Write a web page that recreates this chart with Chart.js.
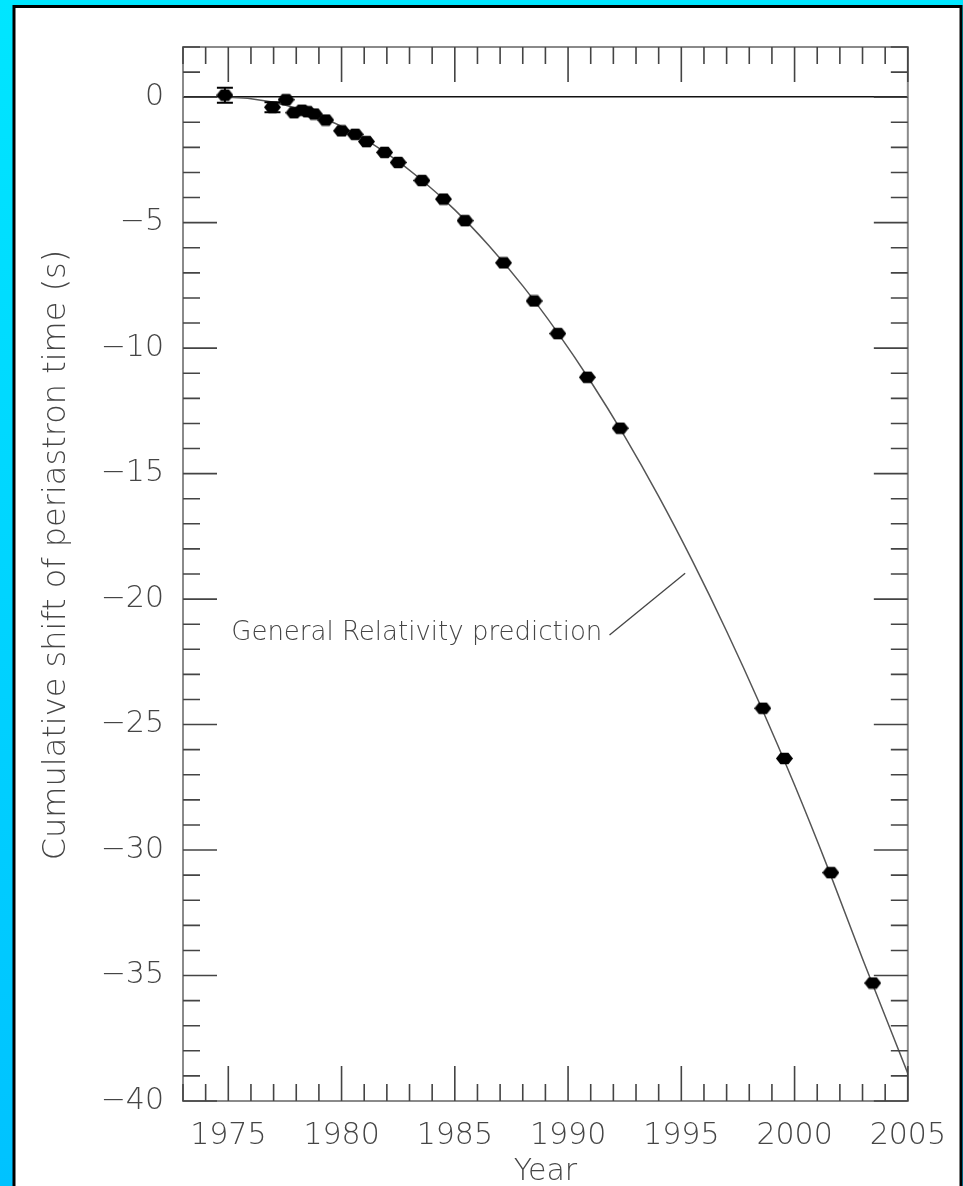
<!DOCTYPE html>
<html><head><meta charset="utf-8">
<script src="https://cdn.jsdelivr.net/npm/chart.js@4.4.1/dist/chart.umd.min.js"></script>
<style>html,body{margin:0;padding:0;background:#fff;overflow:hidden}canvas{display:block}</style>
</head><body>
<canvas id="c" width="963" height="1186"></canvas>
<script>
// ---- data ----
const obsYears = [1974.85, 1976.95, 1977.55, 1977.9, 1978.25, 1978.5, 1978.8, 1979.3, 1980.0, 1980.6, 1981.1, 1981.9, 1982.5, 1983.55, 1984.5, 1985.45, 1987.15, 1988.5, 1989.55, 1990.85, 1992.3, 1998.6, 1999.55, 2001.6, 2003.45];
const obsShift = [0.08, -0.4, -0.1, -0.62, -0.52, -0.58, -0.67, -0.91, -1.34, -1.48, -1.77, -2.2, -2.6, -3.32, -4.06, -4.92, -6.6, -8.12, -9.42, -11.16, -13.19, -24.35, -26.35, -30.9, -35.3];
const obsError = [0.3, 0.2, 0.08, 0.08, 0.08, 0.08, 0.08, 0.05, 0.05, 0.05, 0.05, 0.05, 0.05, 0.05, 0.05, 0.05, 0.05, 0.05, 0.05, 0.05, 0.05, 0.05, 0.05, 0.05, 0.05];
const grYears = [1974.8, 1976, 1977.5, 1979, 1980.5, 1982, 1983.5, 1985, 1986.5, 1988, 1989.5, 1991, 1992.5, 1994, 1995.5, 1997, 1998.5, 2000, 2001.5, 2003, 2005];
const grShift = [0, -0.06, -0.31, -0.76, -1.4, -2.24, -3.27, -4.49, -5.91, -7.52, -9.33, -11.33, -13.52, -15.91, -18.5, -21.28, -24.25, -27.41, -30.78, -34.33, -38.9];
const xTickYears = [1975, 1980, 1985, 1990, 1995, 2000, 2005];
const yTickValues = [0, -5, -10, -15, -20, -25, -30, -35, -40];
const xRange = [1973, 2005];
const yRange = [-40, 2];
const xTitle = 'Year';
const yTitle = 'Cumulative shift of periastron time (s)';
const curveLabel = 'General Relativity prediction';
const labelAnchor = [1975.13, -21.63];
const leaderLine = [[1991.83, -21.43], [1995.17, -18.97]];

// ---- styling ----
const FONT = "'DejaVu Sans', sans-serif";
const TEXT = '#454545';
const WEIGHT = '300';

const mk = document.createElement('canvas');
mk.width = 17; mk.height = 13;
(function () {
  const m = mk.getContext('2d');
  m.fillStyle = '#000';
  m.beginPath();
  m.moveTo(0, 6.5); m.lineTo(4.5, 0.8); m.lineTo(12.5, 0.8);
  m.lineTo(17, 6.5); m.lineTo(12.5, 12.2); m.lineTo(4.5, 12.2);
  m.closePath(); m.fill();
})();

const fmt = v => (v < 0 ? '\u2212' + Math.abs(v) : String(v));

const panelPlugin = {
  id: 'panel',
  beforeDraw(chart) {
    const ctx = chart.ctx, W = chart.width, H = chart.height;
    ctx.save();
    const g = ctx.createLinearGradient(0, 0, 0, H);
    g.addColorStop(0, '#00E6FF');
    g.addColorStop(1, '#00C2FF');
    ctx.fillStyle = g;
    ctx.fillRect(0, 0, W, H);
    ctx.fillStyle = '#000';
    ctx.fillRect(12.5, 5, 950, H);
    ctx.fillStyle = '#fff';
    ctx.fillRect(15.5, 8, 944, H);
    ctx.restore();
  }
};

const decorPlugin = {
  id: 'decor',
  afterDatasetsDraw(chart) {
    const ctx = chart.ctx, xs = chart.scales.x, ys = chart.scales.y, a = chart.chartArea;
    ctx.save();
    // error bars
    ctx.strokeStyle = '#000';
    ctx.lineWidth = 2;
    obsYears.forEach((yr, i) => {
      const e = obsError[i];
      if (e < 0.15) return;
      const px = xs.getPixelForValue(yr);
      const t = ys.getPixelForValue(obsShift[i] + e), b = ys.getPixelForValue(obsShift[i] - e);
      ctx.beginPath();
      ctx.moveTo(px, t); ctx.lineTo(px, b);
      ctx.moveTo(px - 8, t); ctx.lineTo(px + 8, t);
      ctx.moveTo(px - 8, b); ctx.lineTo(px + 8, b);
      ctx.stroke();
    });
    // frame
    ctx.strokeStyle = '#8a8a8a';
    ctx.lineWidth = 2;
    ctx.strokeRect(a.left, a.top, a.right - a.left, a.bottom - a.top);
    // inward ticks
    ctx.strokeStyle = '#444';
    ctx.lineWidth = 1.6;
    ctx.beginPath();
    for (let v = Math.ceil(xs.min); v <= xs.max; v++) {
      const p = xs.getPixelForValue(v);
      const len = xTickYears.includes(v) ? 35 : 17;
      ctx.moveTo(p, a.bottom); ctx.lineTo(p, a.bottom - len);
      ctx.moveTo(p, a.top); ctx.lineTo(p, a.top + len);
    }
    for (let v = Math.ceil(ys.min); v <= ys.max; v++) {
      const p = ys.getPixelForValue(v);
      const len = yTickValues.includes(v) ? 34 : 17;
      ctx.moveTo(a.left, p); ctx.lineTo(a.left + len, p);
      ctx.moveTo(a.right, p); ctx.lineTo(a.right - len, p);
    }
    ctx.stroke();
    // annotation
    ctx.fillStyle = TEXT;
    ctx.font = WEIGHT + " 26px " + FONT;
    ctx.textAlign = 'left';
    ctx.textBaseline = 'alphabetic';
    ctx.fillText(curveLabel, xs.getPixelForValue(labelAnchor[0]), ys.getPixelForValue(labelAnchor[1]));
    ctx.strokeStyle = '#444';
    ctx.lineWidth = 1.3;
    ctx.beginPath();
    ctx.moveTo(xs.getPixelForValue(leaderLine[0][0]), ys.getPixelForValue(leaderLine[0][1]));
    ctx.lineTo(xs.getPixelForValue(leaderLine[1][0]), ys.getPixelForValue(leaderLine[1][1]));
    ctx.stroke();
    // y axis title
    ctx.save();
    ctx.translate(57, 555);
    ctx.rotate(-Math.PI / 2);
    ctx.font = WEIGHT + " 32px " + FONT;
    ctx.textAlign = 'center';
    ctx.textBaseline = 'middle';
    ctx.fillStyle = TEXT;
    ctx.fillText(yTitle, 0, 0);
    ctx.restore();
    ctx.restore();
  }
};

new Chart(document.getElementById('c'), {
  type: 'scatter',
  data: {
    datasets: [
      {
        type: 'line',
        label: 'GR',
        data: grYears.map((x, i) => ({ x, y: grShift[i] })),
        borderColor: '#555',
        borderWidth: 1.5,
        pointRadius: 0,
        cubicInterpolationMode: 'monotone',
        fill: false,
        order: 2
      },
      {
        label: 'obs',
        data: obsYears.map((x, i) => ({ x, y: obsShift[i] })),
        pointStyle: mk,
        pointRadius: 7,
        order: 1
      }
    ]
  },
  options: {
    responsive: false,
    animation: false,
    devicePixelRatio: 1,
    layout: { padding: { top: 47, right: 52, left: 0, bottom: 0 } },
    plugins: { legend: { display: false }, tooltip: { enabled: false } },
    scales: {
      x: {
        type: 'linear',
        min: xRange[0], max: xRange[1],
        afterBuildTicks: s => { s.ticks = xTickYears.map(v => ({ value: v })); },
        afterFit: s => { s.height = 85; },
        grid: { display: false, drawTicks: false },
        border: { display: false },
        ticks: { color: TEXT, font: { family: FONT, size: 30, weight: WEIGHT }, padding: 17, maxRotation: 0, autoSkip: false, callback: v => String(v) },
        title: { display: true, text: xTitle, color: TEXT, font: { family: FONT, size: 30, weight: WEIGHT, lineHeight: 1 }, padding: { top: 0, bottom: -1 } }
      },
      y: {
        type: 'linear',
        min: yRange[0], max: yRange[1],
        afterBuildTicks: s => { s.ticks = yTickValues.map(v => ({ value: v })); },
        afterFit: s => { s.width = 183; },
        grid: {
          display: true, drawTicks: false,
          color: c => (c.tick && c.tick.value === 0 ? '#111' : 'rgba(0,0,0,0)'),
          lineWidth: 1.5
        },
        border: { display: false },
        ticks: { color: TEXT, font: { family: FONT, size: 30, weight: WEIGHT }, padding: 19, autoSkip: false, callback: v => fmt(v) },
        title: { display: false, text: yTitle }
      }
    }
  },
  plugins: [panelPlugin, decorPlugin]
});
</script>
</body></html>
